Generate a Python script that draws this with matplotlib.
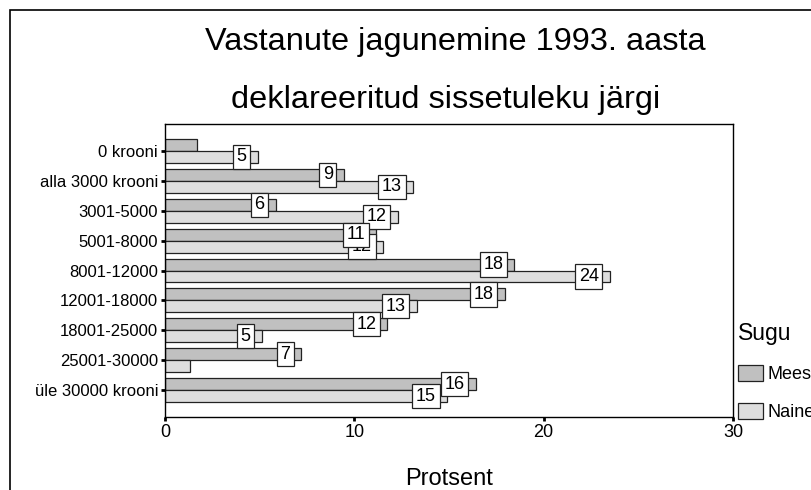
import matplotlib.pyplot as plt
import numpy as np
from matplotlib.patches import Rectangle

plt.rcParams['font.family'] = ['Liberation Sans', 'DejaVu Sans']

kategooriad = ["0 krooni", "alla 3000 krooni", "3001-5000", "5001-8000", "8001-12000",
               "12001-18000", "18001-25000", "25001-30000", "üle 30000 krooni"]
mees = [1.7, 9.45, 5.85, 11.15, 18.45, 17.95, 11.75, 7.2, 16.4]
naine = [4.9, 13.1, 12.3, 11.52, 23.5, 13.3, 5.1, 1.3, 14.9]
x_ticks = [0, 10, 20, 30]

fig = plt.figure(figsize=(8.11, 4.9), dpi=100)
ax = fig.add_axes([165 / 811, 1 - 417 / 490, 568 / 811, 293 / 490])

y = np.arange(len(kategooriad))
b1 = ax.barh(y - 0.2, mees, height=0.4, color='#c0c0c0', edgecolor='#222222', linewidth=0.9, label='Mees')
b2 = ax.barh(y + 0.2, naine, height=0.4, color='#dedede', edgecolor='#222222', linewidth=0.9, label='Naine')

# väärtuste sildid (naine enne, mees peale)
for yy, v, z in [(yy, v, 4) for yy, v in zip(y + 0.2, naine)] + [(yy, v, 5) for yy, v in zip(y - 0.2, mees)]:
    if v < 2:
        continue
    ax.annotate(f"{round(v + 0.001):d}", xy=(v, yy), xytext=(-8, 0), textcoords='offset points',
                ha='right', va='center', fontsize=13, zorder=z,
                bbox=dict(boxstyle='square,pad=0.2', fc='white', ec='#222222', lw=0.9))

ax.set_xlim(0, 30)
ax.set_ylim(8.9, -0.9)
ax.set_yticks(y)
ax.set_yticklabels(kategooriad, fontsize=12)
ax.set_xticks(x_ticks)
ax.set_xticklabels([str(t) for t in x_ticks], fontsize=13)
ax.tick_params(axis='both', length=3, width=2, direction='out', pad=2)
for s in ax.spines.values():
    s.set_linewidth(1.0)

fig.text(455 / 811, 1 - 42 / 490, "Vastanute jagunemine 1993. aasta", ha='center', va='center', fontsize=23.4)
fig.text(446 / 811, 1 - 100 / 490, "deklareeritud sissetuleku järgi", ha='center', va='center', fontsize=23.4)
fig.text(449 / 811, 1 - 479 / 490, "Protsent", ha='center', va='center', fontsize=17)

fig.legend(handles=[b1, b2], labels=['Mees', 'Naine'], title='Sugu',
           loc='upper left', bbox_to_anchor=(738 / 811, 1 - 322 / 490),
           frameon=False, fontsize=13, title_fontsize=16.5, alignment='left',
           handlelength=1.4, handleheight=0.95, labelspacing=1.12,
           handletextpad=0.25, borderaxespad=0, borderpad=0)

# raam ümber joonise (parem ja alumine serv jäävad pildist välja)
fig.patches.append(Rectangle((10 / 811, -0.2), 1.2, 1 - 10 / 490 + 0.2, transform=fig.transFigure,
                             fill=False, ec='black', lw=1.2))

fig.savefig('out.png', dpi=100)
